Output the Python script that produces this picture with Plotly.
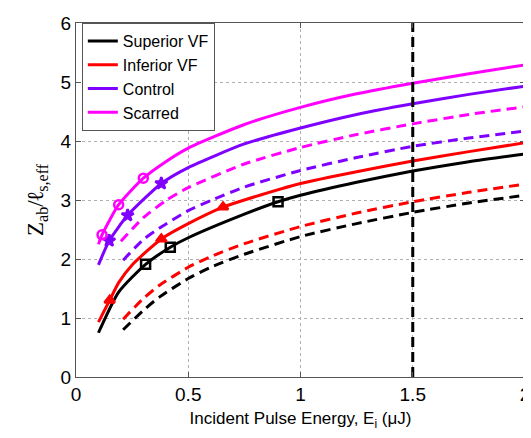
import plotly.graph_objects as go

# ---- data ----
E_sup = [0.10, 0.19, 0.31, 0.42, 0.50, 0.75, 0.90, 1.00, 1.25, 1.50, 1.75, 2.00]
sup_solid = [0.75, 1.44, 1.91, 2.20, 2.36, 2.76, 2.97, 3.08, 3.30, 3.49, 3.65, 3.78]
E_inf = [0.10, 0.15, 0.19, 0.25, 0.38, 0.50, 0.655, 0.75, 1.00, 1.25, 1.50, 1.75, 2.00]
inf_solid = [0.93, 1.30, 1.60, 1.90, 2.34, 2.60, 2.88, 3.00, 3.28, 3.48, 3.66, 3.82, 3.97]
E_ctl = [0.10, 0.148, 0.23, 0.38, 0.50, 0.75, 1.00, 1.25, 1.50, 1.75, 2.00]
ctl_solid = [1.90, 2.31, 2.74, 3.28, 3.55, 3.95, 4.22, 4.45, 4.63, 4.79, 4.93]
E_scr = [0.10, 0.116, 0.19, 0.30, 0.40, 0.50, 0.75, 1.00, 1.25, 1.50, 1.75, 2.00]
scr_solid = [2.25, 2.41, 2.92, 3.37, 3.65, 3.88, 4.28, 4.57, 4.80, 4.98, 5.14, 5.29]

E_dash = [0.21, 0.30, 0.37, 0.50, 0.60, 0.75, 1.00, 1.25, 1.50, 1.75, 2.00]
sup_dash = [0.80, 1.13, 1.35, 1.67, 1.86, 2.08, 2.38, 2.60, 2.79, 2.95, 3.08]
inf_dash = [0.98, 1.33, 1.55, 1.86, 2.04, 2.26, 2.55, 2.78, 2.97, 3.13, 3.27]
ctl_dash = [1.98, 2.33, 2.52, 2.82, 2.99, 3.22, 3.50, 3.72, 3.91, 4.05, 4.17]
E_scr_dash = [0.20, 0.30, 0.40, 0.50, 0.75, 1.00, 1.25, 1.50, 1.75, 2.00]
scr_dash = [2.30, 2.70, 2.99, 3.21, 3.61, 3.89, 4.11, 4.29, 4.45, 4.58]

sup_mk_x = [0.31, 0.42, 0.90]
sup_mk_y = [1.91, 2.20, 2.97]
inf_mk_x = [0.15, 0.38, 0.655]
inf_mk_y = [1.30, 2.34, 2.88]
ctl_mk_x = [0.148, 0.23, 0.38]
ctl_mk_y = [2.31, 2.74, 3.28]
scr_mk_x = [0.116, 0.19, 0.30]
scr_mk_y = [2.41, 2.92, 3.37]

vline_x = [1.5, 1.5]
vline_y = [0, 6]

names = ["Superior VF", "Inferior VF", "Control", "Scarred"]
colors = ["#000000", "#ff0000", "#7f00ff", "#ff00ff"]

fig = go.Figure()
solid = [(E_sup, sup_solid), (E_inf, inf_solid), (E_ctl, ctl_solid), (E_scr, scr_solid)]
dashed = [(E_dash, sup_dash), (E_dash, inf_dash), (E_dash, ctl_dash), (E_scr_dash, scr_dash)]
marks = [(sup_mk_x, sup_mk_y, "square-open"), (inf_mk_x, inf_mk_y, "triangle-up"),
         (ctl_mk_x, ctl_mk_y, "star"), (scr_mk_x, scr_mk_y, "circle-open")]

for i, ((x, y), n, c) in enumerate(zip(solid, names, colors)):
    fig.add_trace(go.Scatter(x=x, y=y, mode="lines", name=n, legendgroup=f"g{i}",
                             line=dict(color=c, width=3, shape="spline", smoothing=0.6)))
for (x, y), c in zip(dashed, colors):
    fig.add_trace(go.Scatter(x=x, y=y, mode="lines", showlegend=False,
                             line=dict(color=c, width=3, dash="10px,6px", shape="spline", smoothing=0.6)))
for (x, y, s), c in zip(marks, colors):
    fig.add_trace(go.Scatter(x=x, y=y, mode="markers", showlegend=False,
                             marker=dict(symbol=s, size=9, color=c,
                                         line=dict(color=c, width=2.5))))
fig.add_trace(go.Scatter(x=vline_x, y=vline_y, mode="lines", showlegend=False,
                         line=dict(color="black", width=3, dash="10px,5px")))

axis_common = dict(showgrid=True, gridcolor="#b0b0b0", griddash="dot", gridwidth=1,
                   showline=True, linecolor="#555555", linewidth=1, mirror="ticks",
                   ticks="inside", ticklen=5, tickcolor="#555555", zeroline=False,
                   automargin=False,
                   tickfont=dict(family="Liberation Sans, Arial", size=19, color="black"))

# page body has an 8px default margin, so the figure is sized to fit the 531x438 window
fig.update_layout(
    width=523, height=430,
    margin=dict(l=68, r=6, t=15, b=61),
    paper_bgcolor="white", plot_bgcolor="white",
    xaxis=dict(range=[0, 2], tickvals=[0, 0.5, 1, 1.5, 2], ticktext=["0", "0.5", "1", "1.5", "2"],
               title=dict(text="Incident Pulse Energy, E<sub>i</sub> (μJ)",
                          font=dict(family="Liberation Sans, Arial", size=17, color="black"),
                          standoff=8),
               **axis_common),
    yaxis=dict(range=[0, 6], tickvals=[0, 1, 2, 3, 4, 5, 6],
               title=dict(text="Z<sub>ab</sub>/<b>ℓ</b><sub>s,eff</sub>",
                          font=dict(family="Liberation Serif, Times New Roman", size=23, color="black"),
                          standoff=10),
               **axis_common),
    legend=dict(x=0.013, y=1.0, xanchor="left", yanchor="top",
                bgcolor="white", bordercolor="#555555", borderwidth=1,
                font=dict(family="Liberation Sans, Arial", size=16, color="black"),
                tracegroupgap=0, entrywidth=112),
    showlegend=True,
)

fig.write_html("out.html")
